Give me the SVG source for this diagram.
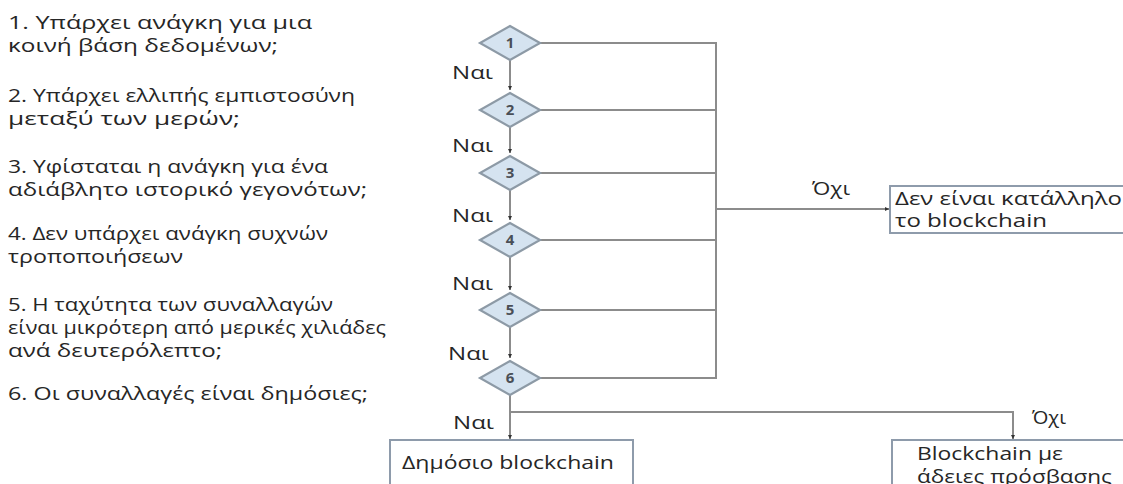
<svg xmlns="http://www.w3.org/2000/svg" width="1123" height="484" viewBox="0 0 1123 484">
<style>
.t{font-family:"Open Sans","Noto Sans","DejaVu Sans",sans-serif;font-size:18px;fill:#262626}
.num{font-family:"Open Sans","DejaVu Sans",sans-serif;font-size:15px;font-weight:bold;fill:#4a4f57;text-anchor:middle}
.dia{fill:#d5e3f0;stroke:#8d9aa6;stroke-width:2.2}
.box{fill:#ffffff;stroke:#8e9bab;stroke-width:2}
.ln{fill:none;stroke:#8c8c8c;stroke-width:2}
</style>
<defs>
<marker id="ah" markerWidth="5" markerHeight="5" refX="4" refY="2.5" orient="auto" markerUnits="userSpaceOnUse">
<path d="M0,0.5 L4,2.5 L0,4.5 Z" fill="#333"/>
</marker>
<polygon id="dshape" points="0,-17 30,0 0,17 -30,0"/>
</defs>
<rect width="1123" height="484" fill="#ffffff"/>
<g id="questions">
<text class="t" x="8" y="29" textLength="304" lengthAdjust="spacingAndGlyphs">1. Υπάρχει ανάγκη για μια</text>
<text class="t" x="8" y="52" textLength="270" lengthAdjust="spacingAndGlyphs">κοινή βάση δεδομένων;</text>
<text class="t" x="8" y="102" textLength="347" lengthAdjust="spacingAndGlyphs">2. Υπάρχει ελλιπής εμπιστοσύνη</text>
<text class="t" x="8" y="125" textLength="232" lengthAdjust="spacingAndGlyphs">μεταξύ των μερών;</text>
<text class="t" x="8" y="173" textLength="320" lengthAdjust="spacingAndGlyphs">3. Υφίσταται η ανάγκη για ένα</text>
<text class="t" x="8" y="196" textLength="359" lengthAdjust="spacingAndGlyphs">αδιάβλητο ιστορικό γεγονότων;</text>
<text class="t" x="8" y="240" textLength="320" lengthAdjust="spacingAndGlyphs">4. Δεν υπάρχει ανάγκη συχνών</text>
<text class="t" x="8" y="263" textLength="175" lengthAdjust="spacingAndGlyphs">τροποποιήσεων</text>
<text class="t" x="8" y="311" textLength="325" lengthAdjust="spacingAndGlyphs">5. Η ταχύτητα των συναλλαγών</text>
<text class="t" x="8" y="334" textLength="378" lengthAdjust="spacingAndGlyphs">είναι μικρότερη από μερικές χιλιάδες</text>
<text class="t" x="8" y="357" textLength="214" lengthAdjust="spacingAndGlyphs">ανά δευτερόλεπτο;</text>
<text class="t" x="8" y="400" textLength="360" lengthAdjust="spacingAndGlyphs">6. Οι συναλλαγές είναι δημόσιες;</text>
</g>
<g id="connectors">
<path class="ln" d="M510,60 V90" marker-end="url(#ah)"/>
<path class="ln" d="M510,127 V153" marker-end="url(#ah)"/>
<path class="ln" d="M510,190 V220" marker-end="url(#ah)"/>
<path class="ln" d="M510,257 V290" marker-end="url(#ah)"/>
<path class="ln" d="M510,327 V358" marker-end="url(#ah)"/>
<path class="ln" d="M510,395 V439" marker-end="url(#ah)"/>
<path class="ln" d="M540,43 H716 V378 H540"/>
<path class="ln" d="M540,110 H716"/>
<path class="ln" d="M540,173 H716"/>
<path class="ln" d="M540,240 H716"/>
<path class="ln" d="M540,310 H716"/>
<path class="ln" d="M716,209 H889" marker-end="url(#ah)"/>
<path class="ln" d="M510,412 H1013 V439" marker-end="url(#ah)"/>
<text class="t" x="452" y="79" textLength="41" lengthAdjust="spacingAndGlyphs">Ναι</text>
<text class="t" x="452" y="152" textLength="41" lengthAdjust="spacingAndGlyphs">Ναι</text>
<text class="t" x="452" y="222" textLength="41" lengthAdjust="spacingAndGlyphs">Ναι</text>
<text class="t" x="452" y="290" textLength="41" lengthAdjust="spacingAndGlyphs">Ναι</text>
<text class="t" x="448" y="360" textLength="41" lengthAdjust="spacingAndGlyphs">Ναι</text>
<text class="t" x="453" y="429" textLength="41" lengthAdjust="spacingAndGlyphs">Ναι</text>
<text class="t" x="812" y="195" textLength="38" lengthAdjust="spacingAndGlyphs">Όχι</text>
<text class="t" x="1032" y="424" textLength="34" lengthAdjust="spacingAndGlyphs">Όχι</text>
</g>
<g id="d1"><use href="#dshape" x="510" y="43" class="dia"/><text class="num" x="510" y="48">1</text></g>
<g id="d2"><use href="#dshape" x="510" y="110" class="dia"/><text class="num" x="510" y="115">2</text></g>
<g id="d3"><use href="#dshape" x="510" y="173" class="dia"/><text class="num" x="510" y="178">3</text></g>
<g id="d4"><use href="#dshape" x="510" y="240" class="dia"/><text class="num" x="510" y="245">4</text></g>
<g id="d5"><use href="#dshape" x="510" y="310" class="dia"/><text class="num" x="510" y="315">5</text></g>
<g id="d6"><use href="#dshape" x="510" y="378" class="dia"/><text class="num" x="510" y="383">6</text></g>
<g id="notsuitable">
<rect class="box" x="890" y="186" width="250" height="47"/>
<text class="t" x="895" y="205" textLength="227" lengthAdjust="spacingAndGlyphs">Δεν είναι κατάλληλο</text>
<text class="t" x="895" y="227" textLength="152" lengthAdjust="spacingAndGlyphs">το blockchain</text>
</g>
<g id="public">
<rect class="box" x="390" y="440" width="243" height="60"/>
<text class="t" x="402" y="469" textLength="212" lengthAdjust="spacingAndGlyphs">Δημόσιο blockchain</text>
</g>
<g id="permissioned">
<rect class="box" x="892" y="440" width="250" height="60"/>
<text class="t" x="917" y="460" textLength="146" lengthAdjust="spacingAndGlyphs">Blockchain με</text>
<text class="t" x="917" y="483" textLength="195" lengthAdjust="spacingAndGlyphs">άδειες πρόσβασης</text>
</g>
</svg>
